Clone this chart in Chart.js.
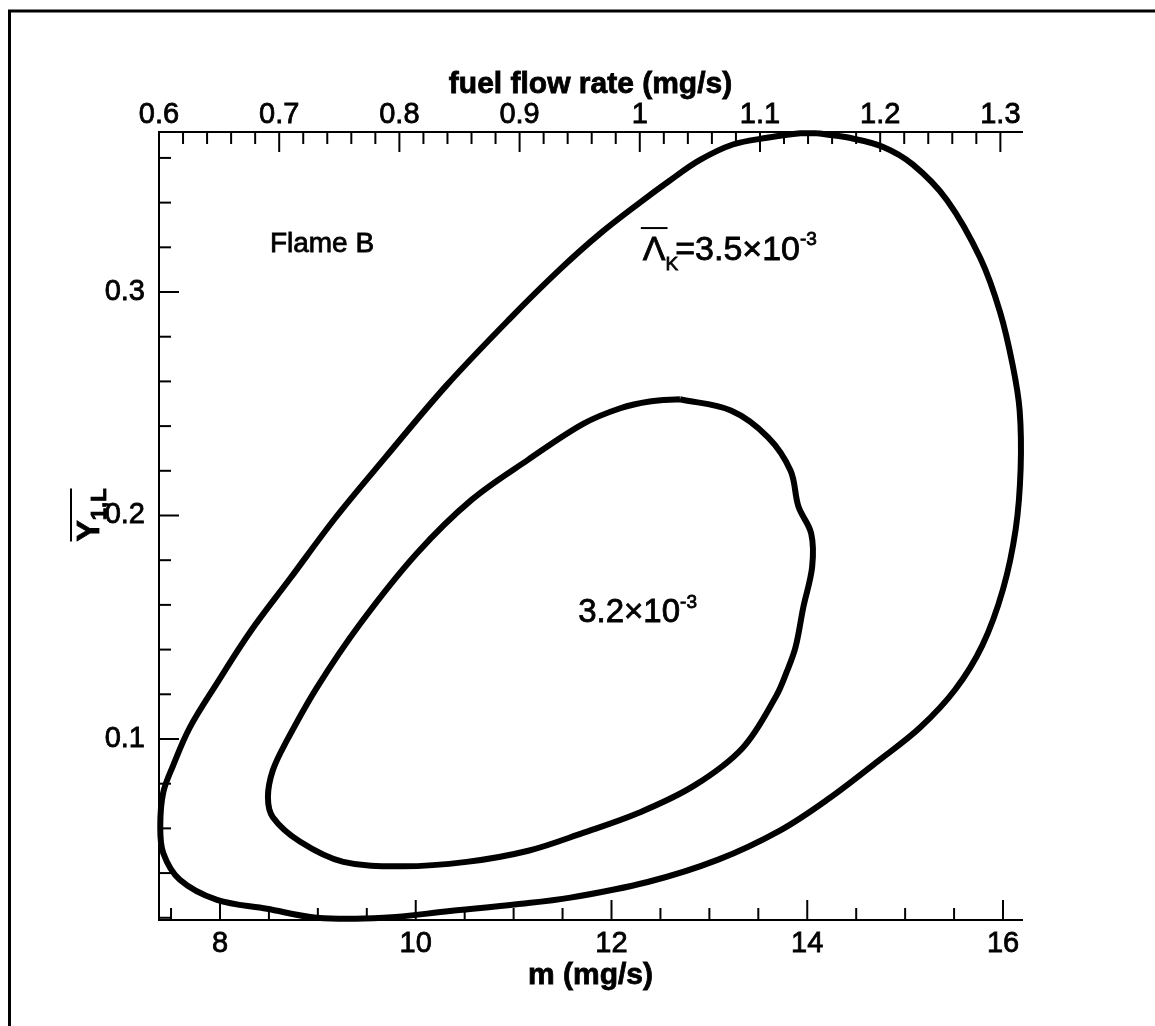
<!DOCTYPE html>
<html>
<head>
<meta charset="utf-8">
<script src="https://cdn.jsdelivr.net/npm/chart.js@4"></script>
<style>
  html, body { margin: 0; padding: 0; background: #fff; }
  #wrap { width: 1155px; height: 1026px; position: relative; }
</style>
</head>
<body>
<div id="wrap"><canvas id="contours"></canvas></div>
<script>
// Flame B: mean Lambda_K contours over m (mg/s) and mean Y_1,L, traced as closed loops
const outerM = [14.10, 14.43, 14.77, 15.08, 15.43, 15.77, 15.97, 16.10, 16.17, 16.18, 16.13, 16.00,
  15.79, 15.51, 15.15, 14.72, 14.21, 13.72, 13.09, 12.37, 11.58, 11.03, 10.35, 9.67, 8.99, 8.48, 7.97,
  7.59, 7.42, 7.39, 7.42, 7.52, 7.69, 7.97, 8.31, 8.72, 9.18, 9.69, 10.31, 10.96, 11.47, 11.88, 12.29,
  12.60, 12.90, 13.24, 13.59, 13.93];
const outerY = [0.371, 0.369, 0.365, 0.357, 0.341, 0.315, 0.291, 0.267, 0.247, 0.221, 0.194, 0.167,
  0.142, 0.122, 0.105, 0.090, 0.073, 0.059, 0.046, 0.036, 0.029, 0.026, 0.023, 0.020, 0.020, 0.024, 0.028,
  0.037, 0.049, 0.061, 0.076, 0.088, 0.105, 0.125, 0.148, 0.172, 0.199, 0.226, 0.258, 0.288, 0.310, 0.326,
  0.340, 0.350, 0.359, 0.366, 0.369, 0.371];

const innerM = [12.70, 13.22, 13.60, 13.83, 13.91, 14.04, 14.05, 13.96, 13.88, 13.79, 13.68, 13.34, 12.84,
  12.28, 11.71, 11.15, 10.52, 9.87, 9.26, 8.82, 8.54, 8.49, 8.54, 8.68, 8.99, 9.44, 10.01, 10.57, 11.15,
  11.71, 12.09, 12.39];
const innerY = [0.252, 0.247, 0.235, 0.220, 0.204, 0.192, 0.177, 0.159, 0.141, 0.130, 0.119, 0.096, 0.079,
  0.067, 0.058, 0.050, 0.045, 0.043, 0.045, 0.054, 0.065, 0.074, 0.086, 0.099, 0.123, 0.152, 0.183, 0.207,
  0.225, 0.241, 0.248, 0.251];

// axis ticks
const mTicks = [8, 10, 12, 14, 16];
const fuelTicks = [0.6, 0.7, 0.8, 0.9, 1, 1.1, 1.2, 1.3];
const yTicks = [0.1, 0.2, 0.3];

const FONT = "'Liberation Sans', Arial, Helvetica, sans-serif";

function loop(xs, ys) {
  const pts = xs.map((x, i) => ({ x: x, y: ys[i] }));
  pts.push(pts[0]);
  return pts;
}

function contour(data) {
  return {
    data: data,
    showLine: true,
    borderColor: '#000',
    borderWidth: 6,
    pointRadius: 0,
    tension: 0.35,
    clip: false
  };
}

function fixedTicks(values) {
  return scale => { scale.ticks = values.map(v => ({ value: v })); };
}

function axisOpts(extra, pad) {
  return Object.assign({
    type: 'linear',
    grid: { display: true, drawOnChartArea: false, drawTicks: false },
    border: { display: true, color: '#000', width: 2 },
    ticks: {
      color: '#000',
      textStrokeColor: '#000',
      textStrokeWidth: 0.8,
      font: { family: FONT, size: 29 },
      padding: pad,
      maxRotation: 0,
      autoSkip: false,
      callback: v => String(v)
    }
  }, extra);
}

// outer page frame
const frame = {
  id: 'frame',
  beforeDraw(chart) {
    const ctx = chart.ctx;
    ctx.save();
    ctx.strokeStyle = '#000';
    ctx.lineWidth = 3;
    ctx.beginPath();
    ctx.moveTo(9.5, 1026);
    ctx.lineTo(9.5, 11);
    ctx.lineTo(1155, 11);
    ctx.stroke();
    ctx.restore();
  }
};

// inward major/minor tick marks on the bottom, top and left axes
const tickMarks = {
  id: 'tickMarks',
  afterDatasetsDraw(chart) {
    const { ctx, chartArea: a, scales } = chart;
    ctx.save();
    ctx.strokeStyle = '#000';
    ctx.lineWidth = 2;
    const seg = (x1, y1, x2, y2) => { ctx.beginPath(); ctx.moveTo(x1, y1); ctx.lineTo(x2, y2); ctx.stroke(); };
    const each = (scale, step, majors, fn) => {
      for (let i = Math.ceil(scale.min / step - 1e-6); i * step <= scale.max + 1e-9; i++) {
        const v = +(i * step).toFixed(4);
        const major = majors.some(t => Math.abs(t - v) < 1e-6);
        fn(scale.getPixelForValue(v), major ? 20 : 12);
      }
    };
    each(scales.x, 0.5, mTicks, (p, len) => seg(p, a.bottom, p, a.bottom - len));
    each(scales.x2, 0.02, fuelTicks, (p, len) => seg(p, a.top, p, a.top + len));
    each(scales.y, 0.02, yTicks, (p, len) => seg(a.left, p, a.left + len, p));
    ctx.restore();
  }
};

// text slightly heavier than plain fill, like the printed figure
function text(ctx, t, x, y) {
  ctx.lineWidth = 0.8;
  ctx.strokeText(t, x, y);
  ctx.fillText(t, x, y);
}

function drawRuns(ctx, x, y, runs) {
  let cx = x;
  const spans = [];
  runs.forEach(r => {
    ctx.font = (r.bold ? 'bold ' : '') + r.size + 'px ' + FONT;
    text(ctx, r.t, cx, y + (r.dy || 0));
    const w = ctx.measureText(r.t).width;
    spans.push([cx, cx + w]);
    cx += w + (r.gap || 0);
  });
  return spans;
}

// axis titles and contour labels
const labels = {
  id: 'labels',
  afterDraw(chart) {
    const { ctx, chartArea: a, scales } = chart;
    const midX = (a.left + a.right) / 2;
    ctx.save();
    ctx.fillStyle = '#000';
    ctx.strokeStyle = '#000';
    ctx.textAlign = 'center';
    ctx.textBaseline = 'middle';
    ctx.font = 'bold 30px ' + FONT;
    text(ctx, 'fuel flow rate (mg/s)', midX, 85);
    text(ctx, 'm (mg/s)', midX, 976);

    // rotated Y_1,L title with overbar, just left of the tick labels
    ctx.textAlign = 'left';
    ctx.textBaseline = 'alphabetic';
    ctx.save();
    ctx.translate(99, 515);
    ctx.rotate(-Math.PI / 2);
    ctx.font = 'bold 32px ' + FONT;
    const wY = ctx.measureText('Y').width;
    ctx.font = 'bold 22px ' + FONT;
    const wSub = ctx.measureText('1,L').width;
    const x0 = -(wY + wSub) / 2;
    drawRuns(ctx, x0, 0, [{ t: 'Y', size: 32, bold: true }, { t: '1,L', size: 22, bold: true, dy: 7 }]);
    ctx.lineWidth = 2;
    ctx.beginPath();
    ctx.moveTo(x0, -28);
    ctx.lineTo(x0 + wY + wSub, -28);
    ctx.stroke();
    ctx.restore();

    const px = (m, y) => [scales.x.getPixelForValue(m), scales.y.getPixelForValue(y)];

    let [lx, ly] = px(8.51, 0.3179);
    drawRuns(ctx, lx, ly, [{ t: 'Flame B', size: 28 }]);

    [lx, ly] = px(12.32, 0.3143);
    const spans = drawRuns(ctx, lx, ly, [
      { t: 'Λ', size: 34 },
      { t: 'K', size: 19, dy: 10, gap: -3 },
      { t: '=3.5×10', size: 34 },
      { t: '-3', size: 19, dy: -15 }
    ]);
    ctx.lineWidth = 2;
    ctx.beginPath();
    ctx.moveTo(spans[0][0] - 2, ly - 32);
    ctx.lineTo(spans[0][1] + 2, ly - 32);
    ctx.stroke();

    [lx, ly] = px(11.66, 0.1523);
    drawRuns(ctx, lx, ly, [
      { t: '3.2×10', size: 33 },
      { t: '-3', size: 19, dy: -14 }
    ]);
    ctx.restore();
  }
};

new Chart(document.getElementById('contours'), {
  type: 'scatter',
  data: {
    datasets: [
      contour(loop(outerM, outerY)),
      contour(loop(innerM, innerY))
    ]
  },
  options: {
    responsive: true,
    maintainAspectRatio: false,
    animation: false,
    events: [],
    layout: { padding: { left: 0, right: 133, top: 0, bottom: 0 } },
    plugins: { legend: { display: false }, tooltip: { enabled: false } },
    scales: {
      x: axisOpts({
        position: 'bottom', min: 7.377, max: 16.194,
        afterBuildTicks: fixedTicks(mTicks),
        afterFit: s => { s.height = 106; }
      }, 7),
      x2: axisOpts({
        position: 'top', min: 0.6, max: 1.318,
        afterBuildTicks: fixedTicks(fuelTicks),
        afterFit: s => { s.height = 132; }
      }, 0),
      y: axisOpts({
        position: 'left', min: 0.019, max: 0.3716,
        afterBuildTicks: fixedTicks(yTicks),
        afterFit: s => { s.width = 159; }
      }, 14)
    }
  },
  plugins: [frame, tickMarks, labels]
});
</script>
</body>
</html>
